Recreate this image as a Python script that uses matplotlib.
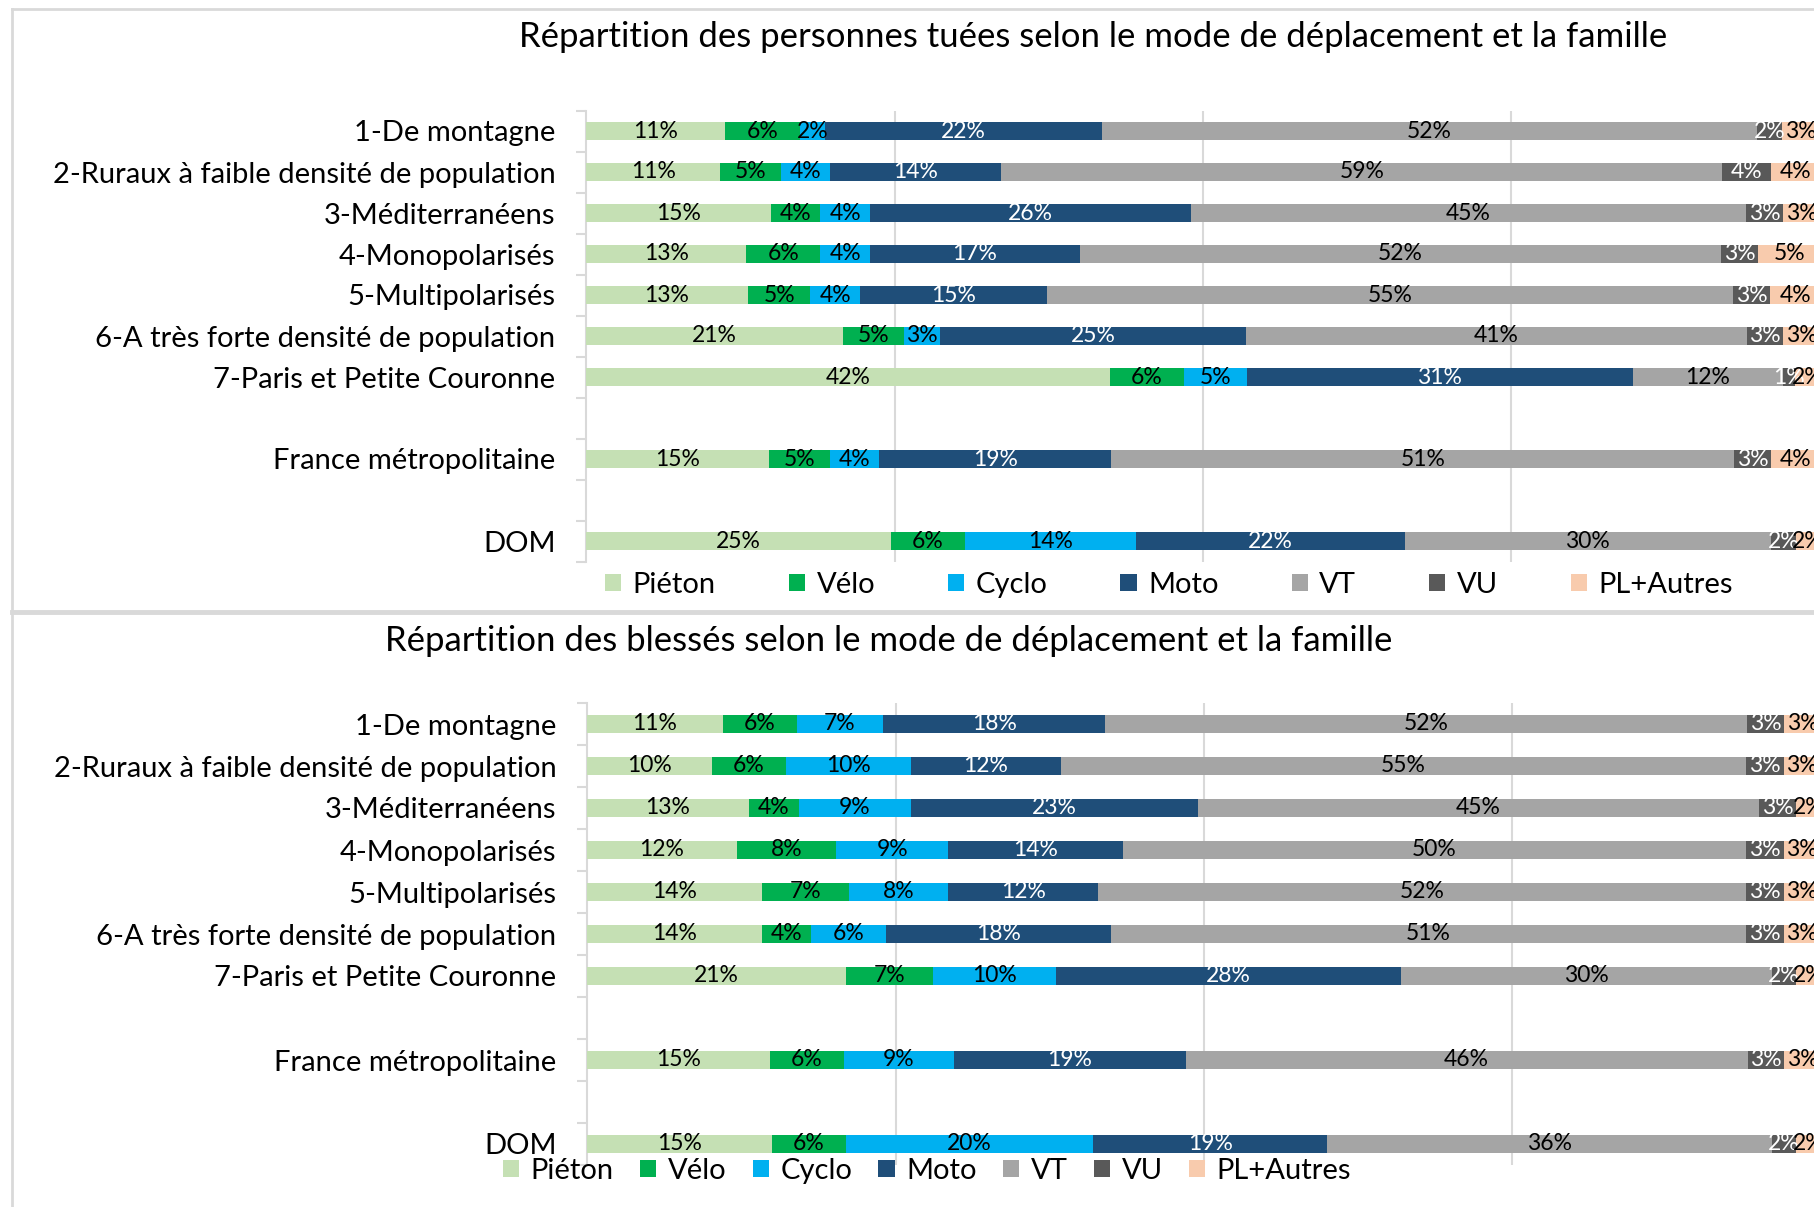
import numpy as np
import matplotlib.pyplot as plt
from matplotlib.patches import Patch
from matplotlib.lines import Line2D

plt.rcParams['font.family'] = ['Lato', 'DejaVu Sans']

W, H = 1814, 1207

modes = ['Piéton', 'Vélo', 'Cyclo', 'Moto', 'VT', 'VU', 'PL+Autres']
couleurs = ['#C5E0B4', '#00B050', '#00B0F0', '#1F4E79', '#A5A5A5', '#595959', '#F8CBAD']
couleurs_txt = ['black', 'black', 'black', 'white', 'black', 'white', 'black']

familles = ['1-De montagne', '2-Ruraux à faible densité de population', '3-Méditerranéens',
            '4-Monopolarisés', '5-Multipolarisés', '6-A très forte densité de population',
            '7-Paris et Petite Couronne', 'France métropolitaine', 'DOM']
# rangs sur l'axe (lignes vides avant France et DOM)
rangs = [0, 1, 2, 3, 4, 5, 6, 8, 10]

# personnes tuées (%)
tues_pieton = [11, 11, 15, 13, 13, 21, 42, 15, 25]
tues_velo = [6, 5, 4, 6, 5, 5, 6, 5, 6]
tues_cyclo = [2, 4, 4, 4, 4, 3, 5, 4, 14]
tues_moto = [22, 14, 26, 17, 15, 25, 31, 19, 22]
tues_vt = [52, 59, 45, 52, 55, 41, 12, 51, 30]
tues_vu = [2, 4, 3, 3, 3, 3, 1, 3, 2]
tues_pl = [3, 4, 3, 5, 4, 3, 2, 4, 2]

# blessés (%)
bles_pieton = [11, 10, 13, 12, 14, 14, 21, 15, 15]
bles_velo = [6, 6, 4, 8, 7, 4, 7, 6, 6]
bles_cyclo = [7, 10, 9, 9, 8, 6, 10, 9, 20]
bles_moto = [18, 12, 23, 14, 12, 18, 28, 19, 19]
bles_vt = [52, 55, 45, 50, 52, 51, 30, 46, 36]
bles_vu = [3, 3, 3, 3, 3, 3, 2, 3, 2]
bles_pl = [3, 3, 2, 3, 3, 3, 2, 3, 2]

GRIS = '#D9D9D9'


def px_rect(x0, x1, y_top, y_bot):
    return [x0 / W, 1 - y_bot / H, (x1 - x0) / W, (y_bot - y_top) / H]


def graphe(fig, rect, series):
    ax = fig.add_axes(rect)
    vals = np.array(series, dtype=float)
    parts = vals / vals.sum(axis=0)
    gauche = np.zeros(vals.shape[1])
    for i in range(len(modes)):
        ax.barh(rangs, parts[i], left=gauche, height=0.42, color=couleurs[i], zorder=3)
        for j in range(vals.shape[1]):
            ax.text(gauche[j] + parts[i][j] / 2, rangs[j], '%d%%' % vals[i][j],
                    ha='center', va='center', fontsize=16.5, color=couleurs_txt[i], zorder=4)
        gauche = gauche + parts[i]
    ax.set_xlim(0, 1)
    ax.set_ylim(10.5, -0.5)
    for x in [0.25, 0.5, 0.75, 1.0]:
        ax.axvline(x, color=GRIS, lw=1.5, zorder=1)
    for s in ['top', 'right', 'bottom']:
        ax.spines[s].set_visible(False)
    ax.spines['left'].set_color(GRIS)
    ax.spines['left'].set_linewidth(1.5)
    ax.set_xticks([])
    ax.set_yticks(rangs)
    ax.set_yticklabels(familles, fontsize=21)
    ax.tick_params(axis='y', which='major', length=0, pad=22)
    ax.set_yticks(np.arange(-0.5, 11, 1), minor=True)
    ax.tick_params(axis='y', which='minor', length=7, color=GRIS, width=1.5)
    ax.patch.set_alpha(0)
    return ax


fig = plt.figure(figsize=(W / 100, H / 100), dpi=100)

# cadres
fig.add_artist(Line2D([12 / W, 12 / W], [0, 1 - 9 / H], color=GRIS, lw=2))
fig.add_artist(Line2D([12 / W, 1], [1 - 9 / H, 1 - 9 / H], color=GRIS, lw=2))
fig.add_artist(Line2D([12 / W, 1], [1 - 612 / H, 1 - 612 / H], color=GRIS, lw=3.5))

graphe(fig, px_rect(586, 1820, 110.5, 561.5),
       [tues_pieton, tues_velo, tues_cyclo, tues_moto, tues_vt, tues_vu, tues_pl])
graphe(fig, px_rect(587, 1821, 703, 1165),
       [bles_pieton, bles_velo, bles_cyclo, bles_moto, bles_vt, bles_vu, bles_pl])

fig.text(1093 / W, 1 - 37 / H, 'Répartition des personnes tuées selon le mode de déplacement et la famille',
         ha='center', va='center', fontsize=25)
fig.text(889 / W, 1 - 641 / H, 'Répartition des blessés selon le mode de déplacement et la famille',
         ha='center', va='center', fontsize=25)

poignees = [Patch(facecolor=c) for c in couleurs]
fig.legend(poignees, modes, loc='center', bbox_to_anchor=(1169 / W, 1 - 585 / H), ncol=7,
           frameon=False, fontsize=21, handlelength=0.55, handleheight=0.55,
           handletextpad=0.4, columnspacing=2.5)
fig.legend(poignees, modes, loc='center', bbox_to_anchor=(927 / W, 1 - 1171 / H), ncol=7,
           frameon=False, fontsize=21, handlelength=0.55, handleheight=0.55,
           handletextpad=0.4, columnspacing=0.9)

fig.savefig('out.png', dpi=100)
